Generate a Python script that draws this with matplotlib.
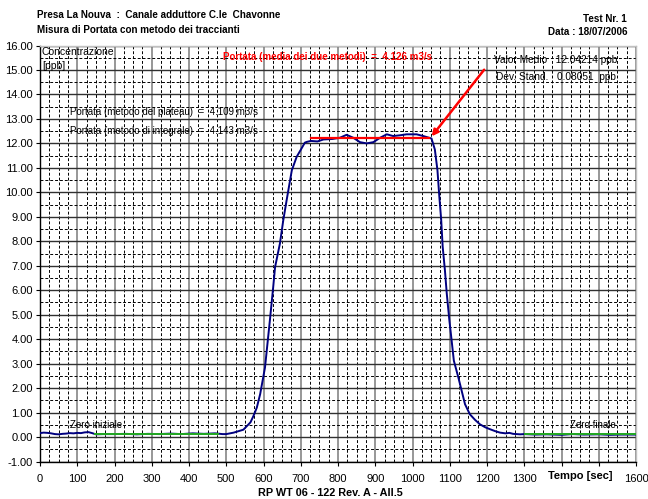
import matplotlib
matplotlib.use("Agg")
import matplotlib.pyplot as plt
from matplotlib.ticker import MultipleLocator, FuncFormatter

# ---- data ----
time_s = [0, 10, 20, 30, 40, 50, 60, 70, 80, 90, 100, 110, 120, 130, 140, 150, 170, 200, 230,
          260, 290, 320, 350, 380, 410, 440, 470, 490, 500, 520, 546, 565, 573, 582, 591, 604,
          617, 626, 631, 644, 653, 662, 676, 689, 702, 711, 716, 727, 745, 761, 785, 805, 823,
          841, 859, 877, 895, 913, 931, 948, 966, 984, 1011, 1029, 1051, 1060, 1067, 1072,
          1077, 1081, 1087, 1092, 1099, 1105, 1111, 1123, 1132, 1141, 1154, 1168, 1181, 1195,
          1208, 1222, 1235, 1250, 1260, 1270, 1289, 1300, 1330, 1360, 1400, 1430, 1460, 1500,
          1530, 1560, 1600]
conc_ppb = [0.16, 0.18, 0.17, 0.15, 0.12, 0.11, 0.13, 0.14, 0.16, 0.15, 0.17, 0.16, 0.19, 0.20,
            0.16, 0.11, 0.12, 0.12, 0.13, 0.11, 0.13, 0.12, 0.14, 0.12, 0.15, 0.13, 0.15, 0.12,
            0.12, 0.18, 0.30, 0.60, 0.86, 1.20, 1.75, 2.84, 4.75, 6.12, 6.94, 7.90, 8.85, 9.67,
            10.90, 11.45, 11.79, 12.03, 12.06, 12.10, 12.08, 12.16, 12.18, 12.23, 12.35, 12.23,
            12.05, 12.00, 12.05, 12.23, 12.37, 12.30, 12.33, 12.37, 12.37, 12.30, 12.20, 11.75,
            10.90, 9.83, 8.88, 7.78, 6.82, 5.86, 4.77, 3.95, 3.12, 2.44, 1.89, 1.34, 0.93, 0.70,
            0.52, 0.40, 0.32, 0.24, 0.18, 0.15, 0.17, 0.13, 0.11, 0.12, 0.10, 0.11, 0.09, 0.12,
            0.10, 0.11, 0.09, 0.10, 0.10]

plateau_t = [727, 1043]
plateau_c = [12.2, 12.2]
zero_init_t = [148, 479]
zero_init_c = [0.14, 0.14]
zero_fin_t = [1302, 1600]
zero_fin_c = [0.14, 0.14]

x_ticks = [0, 100, 200, 300, 400, 500, 600, 700, 800, 900, 1000, 1100, 1200, 1300, 1400, 1500, 1600]
x_tick_labels = ["0", "100", "200", "300", "400", "500", "600", "700", "800", "900", "1000",
                 "1100", "1200", "1300", "", "", "1600"]

plt.rcParams['font.family'] = ['Liberation Sans', 'DejaVu Sans']

fig = plt.figure(figsize=(6.48, 4.99), dpi=100)
ax = fig.add_axes([40/648, 1-461.5/499, 596/648, (461.5-45.5)/499])

ax.set_xlim(0, 1600)
ax.set_ylim(-1, 16)

ax.xaxis.set_major_locator(MultipleLocator(100))
ax.xaxis.set_minor_locator(MultipleLocator(25))
ax.yaxis.set_major_locator(MultipleLocator(1))
ax.yaxis.set_minor_locator(MultipleLocator(0.5))

ax.grid(which='major', axis='x', color='#7a7a7a', linewidth=1.1, linestyle='-')
ax.grid(which='major', axis='y', color='#303030', linewidth=1.0, linestyle='-')
ax.grid(which='minor', axis='both', color='black', linewidth=0.7, linestyle=(0, (3, 2)))
ax.set_axisbelow(True)

ax.set_xticks(x_ticks)
ax.set_xticklabels(x_tick_labels)
ax.yaxis.set_major_formatter(FuncFormatter(lambda v, p: f"{v:.2f}"))
ax.tick_params(axis='both', which='major', direction='out', length=3, width=0.8,
               labelsize=8, pad=2)
ax.tick_params(axis='x', which='major', pad=6)
ax.tick_params(axis='both', which='minor', length=0)

for s in ['left', 'bottom']:
    ax.spines[s].set_color('black')
    ax.spines[s].set_linewidth(1.0)
for s in ['top', 'right']:
    ax.spines[s].set_color('#c0c0c0')
    ax.spines[s].set_linewidth(1.0)

ax.plot(time_s, conc_ppb, color='#000080', linewidth=1.4, zorder=3)
ax.plot(zero_init_t, zero_init_c, color='#22aa22', linewidth=1.4, zorder=4)
ax.plot(zero_fin_t, zero_fin_c, color='#22aa22', linewidth=1.4, zorder=4)
ax.plot(plateau_t, plateau_c, color='red', linewidth=1.6, zorder=4)

ax.annotate('', xy=(1047, 12.2), xytext=(1197, 15.1),
            arrowprops=dict(arrowstyle='-|>', color='red', lw=1.8, mutation_scale=9),
            zorder=5)

fs = 7
ax.text(5, 15.72, "Concentrazione", fontsize=7.5, va='center', ha='left')
ax.text(5, 15.15, "[ppb]", fontsize=7.5, va='center', ha='left')
ax.text(772, 15.55, "Portata (media dei due metodi)  =  4.126 m3/s", fontsize=fs, color='red',
        fontweight='bold', va='center', ha='center')
ax.text(80, 13.3, "Portata (metodo del plateau)  =  4.109 m3/s", fontsize=fs, va='center', ha='left')
ax.text(80, 12.5, "Portata (metodo di integrale)  =  4.143 m3/s", fontsize=fs, va='center', ha='left')
ax.text(1219, 15.4, "Valor Medio   12.04214 ppb", fontsize=7.3, va='center', ha='left')
ax.text(1224, 14.7, "Dev. Stand.   0.08051  ppb", fontsize=7.3, va='center', ha='left')
ax.text(80, 0.5, "Zero iniziale", fontsize=fs, va='center', ha='left')
ax.text(1423, 0.5, "Zero finale", fontsize=fs, va='center', ha='left')

ax.text(1450, -1.58, "Tempo [sec]", fontsize=8, fontweight='bold', va='center', ha='center')

tfs = 7.1
fig.text(37/648, 1-15/499, "Presa La Nouva  :  Canale adduttore C.le  Chavonne", fontsize=tfs,
         fontweight='bold', va='center', ha='left')
fig.text(37/648, 1-30/499, "Misura di Portata con metodo dei traccianti", fontsize=tfs,
         fontweight='bold', va='center', ha='left')
fig.text(627/648, 1-19/499, "Test Nr. 1", fontsize=tfs, fontweight='bold', va='center', ha='right')
fig.text(627/648, 1-32/499, "Data : 18/07/2006", fontsize=tfs, fontweight='bold', va='center', ha='right')
fig.text(330/648, 1-493/499, "RP WT 06 - 122 Rev. A - All.5", fontsize=7.8, fontweight='bold',
         va='center', ha='center')

fig.savefig("out.png", dpi=100)
